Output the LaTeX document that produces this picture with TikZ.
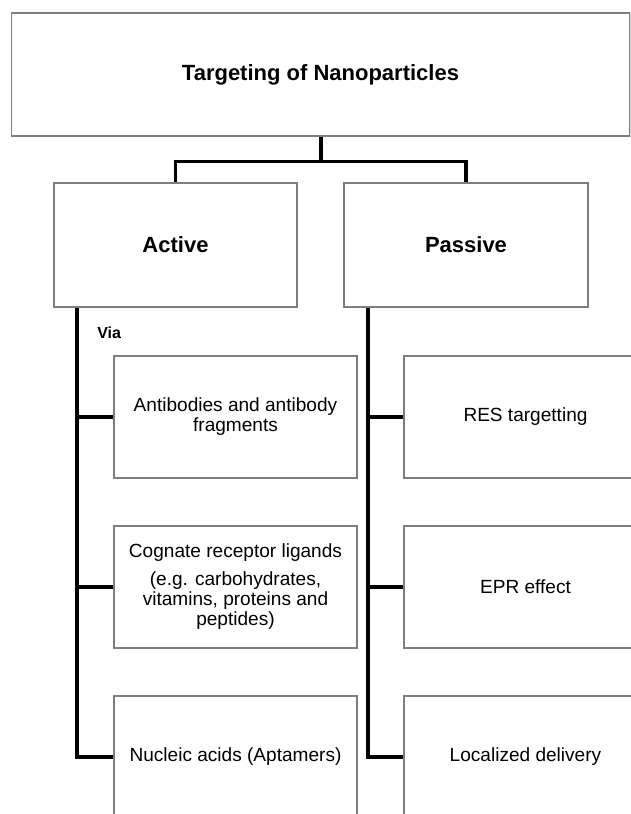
\documentclass[tikz,border=0pt]{standalone}
\usepackage{fontspec}
\setmainfont{Liberation Sans}
\usetikzlibrary{shadows}

\begin{document}
\begin{tikzpicture}[x=0.75pt,y=0.75pt,yscale=-1,xscale=1,
  box/.style={draw={rgb,255:red,125;green,125;blue,125},line width=1.1pt,fill=white,inner sep=0pt,
    drop shadow={shadow xshift=0.9pt,shadow yshift=-0.9pt,opacity=0.3}},
  headbox/.style={box,font=\bfseries\fontsize{16.5}{19}\selectfont},
  itembox/.style={box,minimum width=182.25pt,minimum height=91.5pt,align=center,
    font=\fontsize{14.3}{15}\selectfont},
  stem/.style={line width=3pt},
  branch/.style={line width=2.3pt}]
%set diagram size 631 x 814
\useasboundingbox (0,0) rectangle (631,814);
\clip (0,0) rectangle (631,814);

% Head Nodes
\node[headbox,minimum width=463.5pt,minimum height=92.25pt] (nano) at (320.5,74.5) {Targeting of Nanoparticles};
\node[headbox,minimum width=182.25pt,minimum height=93pt] (active) at (175.5,245) {Active};
\node[headbox,minimum width=183pt,minimum height=93pt] (passive) at (466,245) {Passive};

% Text Node
\node[anchor=west,inner sep=0pt,font=\bfseries\fontsize{12}{14}\selectfont] (via) at (97,333) {Via};

% Active Nodes
\node[itembox] (ab) at (235.5,417) {Antibodies and antibody\\fragments};
\node[itembox] (cg) at (235.5,587) {Cognate receptor ligands\\[6pt](e.g. carbohydrates,\\vitamins, proteins and\\peptides)};
\node[itembox] (na) at (235.5,757) {Nucleic acids (Aptamers)};

% Passive Nodes
\node[itembox] (res) at (525.5,417) {RES targetting};
\node[itembox] (epr) at (525.5,587) {EPR effect};
\node[itembox] (loc) at (525.5,757) {Localized delivery};

% Tree Lines
\coordinate (bar) at ([yshift=18.75pt]nano.south);
\draw[stem] (nano.south) -- (bar);
\draw[branch] (active.north) |- (bar) -| (passive.north);

\coordinate (lstem) at ([xshift=18pt]active.south west);
\coordinate (rstem) at ([xshift=18.75pt]passive.south west);
\draw[stem] (lstem) |- (na.west);
\draw[stem] (rstem) |- (loc.west);
\foreach \n in {ab,cg} \draw[branch] (lstem |- \n.west) -- (\n.west);
\foreach \n in {res,epr} \draw[branch] (rstem |- \n.west) -- (\n.west);

\end{tikzpicture}
\end{document}
